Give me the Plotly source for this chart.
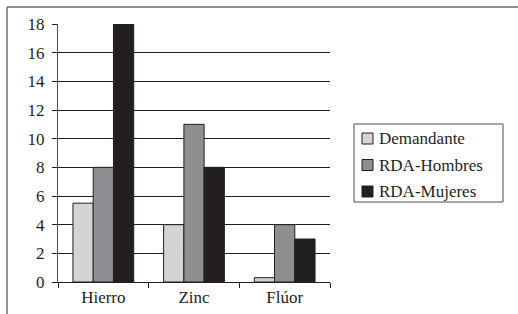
import plotly.graph_objects as go

categories = ["Hierro", "Zinc", "Flúor"]
demandante = [5.5, 4, 0.3]
rda_hombres = [8, 11, 4]
rda_mujeres = [18, 8, 3]
series_names = ["Demandante", "RDA-Hombres", "RDA-Mujeres"]
colors = ["#d3d4d6", "#8e8f92", "#231f20"]

fig = go.Figure()
for name, vals, col in zip(series_names, [demandante, rda_hombres, rda_mujeres], colors):
    fig.add_trace(go.Bar(x=categories, y=vals, name=name, showlegend=False,
                         marker=dict(color=col, line=dict(color="#231f20", width=1))))

W, H = 518, 314
L, T = 58, 24
R, B = W - 330, H - 282
pw, ph = W - L - R, H - T - B

def px(x):
    return (x - L) / pw

def py(y):
    return (H - B - y) / ph

shapes = [
    dict(type="line", xref="paper", yref="paper", x0=px(7), x1=px(530),
         y0=py(7), y1=py(7), line=dict(color="#6d6e70", width=1.5)),
    dict(type="line", xref="paper", yref="paper", x0=px(7), x1=px(7),
         y0=py(7), y1=py(330), line=dict(color="#6d6e70", width=1.5)),
    dict(type="rect", xref="paper", yref="paper", x0=px(354), x1=px(503),
         y0=py(124), y1=py(202), line=dict(color="#4d4d4f", width=1),
         fillcolor="white"),
]
annotations = []
row_y = [138.5, 165, 191.5]
for name, col, yc in zip(series_names, colors, row_y):
    shapes.append(dict(type="rect", xref="paper", yref="paper",
                       x0=px(362), x1=px(373), y0=py(yc - 5.5), y1=py(yc + 5.5),
                       fillcolor=col, line=dict(color="#231f20", width=1)))
    annotations.append(dict(xref="paper", yref="paper", x=px(377), y=py(yc),
                            xanchor="left", yanchor="middle", text=name,
                            showarrow=False,
                            font=dict(family="Liberation Serif", size=17, color="#231f20")))

fig.update_layout(
    width=W, height=H,
    margin=dict(l=L, r=R, t=T, b=B),
    paper_bgcolor="white", plot_bgcolor="white",
    barmode="group", bargap=0.33, bargroupgap=0,
    font=dict(family="Liberation Serif", size=17, color="#231f20"),
    showlegend=False,
    xaxis=dict(showline=True, linecolor="#231f20", linewidth=1,
               ticks="outside", tickson="boundaries", ticklen=5,
               tickcolor="#231f20", showgrid=False, automargin=False),
    yaxis=dict(range=[0, 18], dtick=2, showline=True, linecolor="#4d4d4f",
               linewidth=1, ticks="outside", ticklen=5, tickcolor="#231f20",
               showgrid=True, gridcolor="#231f20", gridwidth=1, zeroline=False,
               ticklabelstandoff=4, automargin=False),
    shapes=shapes,
    annotations=annotations,
)

fig.write_html("out.html", config={"displayModeBar": False},
               post_script="document.body.style.margin='0';")
